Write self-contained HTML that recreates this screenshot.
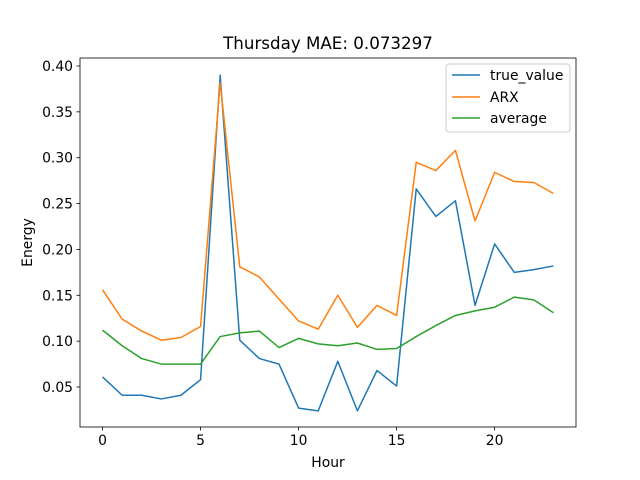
<!DOCTYPE html>
<html><head><meta charset="utf-8"><style>
body{margin:0;background:#fff}
svg{display:block;font-family:"DejaVu Sans","Liberation Sans",sans-serif}
</style></head><body>
<svg id="chart" width="640" height="480">
<rect width="640" height="480" fill="#fff"/>
<text x="328" y="49" font-size="16.7" text-anchor="middle">Thursday MAE: 0.073297</text>
<g id="ticks"></g>
<g id="series"></g>
<rect x="80" y="58" width="496" height="369" fill="none" stroke="#000" stroke-width="0.8"/>
<text x="328" y="467" font-size="13.9" text-anchor="middle">Hour</text>
<text transform="translate(32,242.5) rotate(-90)" font-size="13.9" text-anchor="middle">Energy</text>
<g>
<rect x="446" y="64" width="124" height="68" rx="3" fill="#fff" fill-opacity="0.8" stroke="#ccc"/>
<g><line x1="452" y1="75" x2="480" y2="75" stroke="#1f77b4" stroke-width="1.5"/><text x="490" y="80" font-size="13.9">true_value</text></g>
<g><line x1="452" y1="97" x2="480" y2="97" stroke="#ff7f0e" stroke-width="1.5"/><text x="490" y="102" font-size="13.9">ARX</text></g>
<g><line x1="452" y1="118" x2="480" y2="118" stroke="#2ca02c" stroke-width="1.5"/><text x="490" y="123" font-size="13.9">average</text></g>
</g>
</svg>
<script>
const hours=[0,1,2,3,4,5,6,7,8,9,10,11,12,13,14,15,16,17,18,19,20,21,22,23];
const trueValue=[0.061,0.041,0.041,0.037,0.041,0.058,0.390,0.101,0.081,0.075,0.027,0.024,0.078,0.024,0.068,0.051,0.266,0.236,0.253,0.139,0.206,0.175,0.178,0.182];
const arx=[0.156,0.124,0.111,0.101,0.104,0.116,0.382,0.181,0.170,0.146,0.122,0.113,0.150,0.115,0.139,0.128,0.295,0.286,0.308,0.231,0.284,0.274,0.273,0.261];
const average=[0.112,0.095,0.081,0.075,0.075,0.075,0.105,0.109,0.111,0.093,0.103,0.097,0.095,0.098,0.091,0.092,0.105,0.117,0.128,0.133,0.137,0.148,0.145,0.131];
const xTicks=[0,5,10,15,20];
const yTicks=[0.05,0.10,0.15,0.20,0.25,0.30,0.35,0.40];
const X0=80,X1=576,Y0=58,Y1=427;
const xmin=-1.15,xmax=24.15,ymin=0.0064,ymax=0.4087;
const sx=v=>X0+(v-xmin)/(xmax-xmin)*(X1-X0);
const sy=v=>Y1-(v-ymin)/(ymax-ymin)*(Y1-Y0);
const NS="http://www.w3.org/2000/svg";
const tg=document.getElementById('ticks'),sg=document.getElementById('series');
function mk(tag,attrs,parent){const e=document.createElementNS(NS,tag);for(const k in attrs)e.setAttribute(k,attrs[k]);parent.appendChild(e);return e;}
xTicks.forEach(t=>{const x=sx(t);
const l=mk('line',{x1:x,x2:x,y1:Y1,y2:Y1+3.5,stroke:'#000','stroke-width':0.8},tg);


const tx=mk('text',{x:x,y:Y1+18,'font-size':13.9,'text-anchor':'middle'},tg);tx.textContent=t;

});
yTicks.forEach(t=>{const y=sy(t);
const l=mk('line',{x1:X0-3.5,x2:X0,y1:y,y2:y,stroke:'#000','stroke-width':0.8},tg);


const tx=mk('text',{x:X0-7,y:y+5,'font-size':13.9,'text-anchor':'end'},tg);tx.textContent=t.toFixed(2);

});
function line(vals,color,name){const p=mk('polyline',{points:vals.map((v,i)=>sx(hours[i])+','+sy(v)).join(' '),fill:'none',stroke:color,'stroke-width':1.5,'stroke-linejoin':'round'},sg);

}
line(trueValue,'#1f77b4','true-value-line');
line(arx,'#ff7f0e','arx-line');
line(average,'#2ca02c','average-line');
</script>
</body></html>
